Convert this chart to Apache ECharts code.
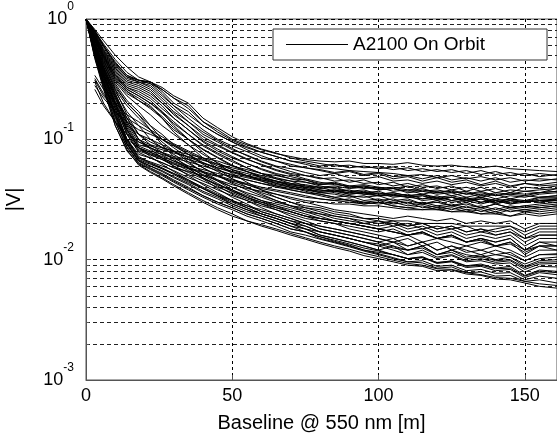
<!DOCTYPE html>
<html>
<head>
<meta charset="utf-8">
<script src="https://cdn.jsdelivr.net/npm/echarts@6/dist/echarts.min.js"></script>
<style>
  html, body { margin: 0; padding: 0; background: #fff; }
  #chart { width: 557px; height: 441px; }
</style>
</head>
<body>
<div id="chart"></div>
<script>
// baseline positions [m] shared by every curve
const baseline = [0, 3, 6, 10, 14, 18, 22, 26, 30, 35, 40, 45, 50, 55, 60, 65, 70, 75, 80, 85,
  90, 95, 100, 105, 110, 115, 120, 125, 130, 135, 140, 145, 150, 155, 161];

const seriesName = "A2100 On Orbit";
const xTicks = [0, 50, 100, 150];

// upper band (ends ~0.023 - 0.055)
const u1 = [1, .82, .66, .5, .4, .33, .3, .26, .22, .19, .14, .12, .1, .09, .082, .076, .072, .068, .066, .065, .066, .063, .063, .062, .064, .061, .06, .061, .059, .058, .06, .057, .056, .055, .054];
const u2 = [1, .8, .62, .46, .36, .31, .3, .25, .2, .17, .13, .11, .095, .085, .078, .072, .066, .064, .06, .062, .058, .06, .057, .059, .055, .057, .054, .056, .052, .055, .051, .053, .05, .052, .05];
const u3 = [1, .78, .6, .44, .34, .31, .29, .24, .19, .15, .12, .1, .088, .079, .07, .066, .062, .058, .056, .053, .055, .051, .053, .049, .05, .047, .05, .046, .048, .045, .048, .044, .046, .045, .047];
const u4 = [1, .76, .56, .4, .32, .3, .27, .22, .18, .14, .11, .095, .082, .074, .066, .06, .057, .053, .05, .052, .048, .047, .049, .045, .046, .043, .045, .042, .044, .041, .043, .04, .043, .042, .044];
const u5 = [1, .74, .54, .38, .3, .28, .25, .2, .16, .13, .1, .088, .077, .068, .062, .056, .052, .05, .048, .045, .046, .043, .044, .041, .043, .04, .041, .038, .04, .037, .039, .036, .04, .039, .041];
const u6 = [1, .62, .4, .24, .14, .1, .09, .085, .08, .075, .07, .066, .06, .056, .052, .05, .047, .046, .043, .044, .041, .042, .04, .039, .041, .037, .038, .036, .037, .034, .036, .035, .037, .036, .039];
const u7 = [1, .72, .52, .36, .28, .26, .23, .19, .15, .12, .095, .08, .07, .063, .057, .052, .049, .046, .042, .043, .04, .041, .038, .039, .036, .037, .035, .036, .033, .035, .032, .034, .033, .035, .036];
const u8 = [1, .6, .38, .22, .13, .09, .085, .078, .072, .068, .063, .058, .054, .05, .047, .045, .042, .041, .039, .04, .037, .038, .035, .036, .034, .035, .032, .033, .031, .033, .03, .032, .03, .033, .034];
const u9 = [1, .7, .5, .34, .26, .23, .2, .17, .14, .11, .088, .075, .065, .058, .052, .048, .045, .041, .04, .037, .038, .035, .036, .033, .034, .031, .032, .03, .031, .029, .031, .029, .031, .03, .032];
const u10 = [1, .58, .36, .2, .12, .085, .078, .072, .066, .06, .056, .052, .049, .046, .043, .04, .038, .036, .035, .033, .034, .031, .032, .03, .031, .029, .03, .028, .029, .027, .029, .027, .028, .029, .03];
const u11 = [1, .68, .48, .32, .25, .21, .18, .15, .12, .1, .082, .07, .06, .054, .049, .045, .041, .039, .036, .035, .033, .034, .031, .032, .029, .03, .028, .029, .027, .028, .026, .028, .027, .028, .029];
const u12 = [1, .56, .34, .19, .11, .08, .074, .068, .062, .057, .053, .049, .045, .042, .039, .037, .035, .033, .032, .031, .03, .029, .03, .028, .027, .028, .026, .027, .025, .026, .024, .026, .025, .026, .027];
const u13 = [1, .66, .46, .3, .23, .19, .16, .13, .11, .09, .075, .064, .056, .05, .045, .041, .038, .036, .034, .032, .031, .029, .03, .028, .027, .026, .027, .025, .026, .024, .025, .023, .025, .024, .025];
const u14 = [1, .55, .33, .18, .1, .075, .07, .064, .058, .054, .05, .046, .042, .039, .037, .035, .033, .031, .03, .029, .029, .028, .028, .027, .026, .026, .026, .025, .025, .024, .024, .023, .024, .023, .024];
const v1 = [1, .8, .6, .42, .33, .31, .3, .27, .23, .2, .15, .125, .105, .092, .083, .077, .07, .066, .063, .06, .061, .058, .059, .056, .058, .054, .056, .053, .055, .051, .054, .05, .052, .049, .051];
const v2 = [1, .77, .58, .41, .33, .3, .28, .23, .19, .16, .13, .11, .095, .082, .073, .066, .06, .058, .055, .052, .054, .05, .052, .047, .049, .045, .048, .044, .046, .042, .045, .041, .043, .041, .042];
const v3 = [1, .75, .55, .39, .31, .29, .26, .21, .17, .14, .115, .098, .084, .073, .065, .059, .054, .05, .047, .048, .044, .046, .042, .044, .04, .042, .039, .041, .037, .04, .036, .038, .037, .038, .039];
const v4 = [1, .73, .53, .37, .29, .27, .24, .2, .165, .13, .105, .09, .078, .069, .061, .055, .051, .047, .044, .042, .041, .039, .04, .037, .038, .035, .037, .034, .036, .033, .035, .032, .034, .033, .034];
const v5 = [1, .71, .51, .35, .27, .25, .22, .18, .15, .12, .097, .083, .072, .063, .056, .051, .047, .044, .041, .039, .037, .036, .037, .034, .035, .032, .034, .031, .033, .03, .032, .03, .031, .03, .031];
const v6 = [1, .69, .49, .33, .26, .23, .2, .165, .135, .11, .09, .077, .067, .058, .052, .047, .043, .04, .038, .036, .034, .033, .034, .031, .032, .029, .031, .028, .03, .027, .029, .027, .028, .027, .028];
const v7 = [1, .67, .47, .31, .24, .21, .185, .155, .125, .1, .083, .071, .061, .054, .048, .043, .04, .037, .035, .033, .031, .03, .031, .029, .03, .027, .028, .026, .028, .025, .027, .025, .026, .025, .026];
const v8 = [1, .79, .6, .43, .34, .31, .29, .26, .22, .18, .14, .115, .098, .087, .078, .072, .066, .062, .058, .057, .055, .054, .053, .052, .05, .051, .048, .05, .047, .049, .046, .048, .045, .047, .046];
const w1 = [1, .6, .39, .23, .135, .095, .088, .082, .077, .072, .067, .062, .058, .054, .05, .047, .045, .044, .042, .043, .04, .041, .039, .04, .038, .039, .036, .038, .035, .037, .034, .036, .035, .036, .037];
const w2 = [1, .59, .37, .21, .125, .088, .08, .075, .07, .065, .06, .055, .051, .048, .045, .042, .04, .038, .037, .038, .035, .036, .034, .035, .033, .034, .031, .033, .03, .032, .029, .031, .03, .031, .032];
const w3 = [1, .57, .35, .2, .115, .082, .076, .07, .064, .058, .054, .05, .046, .043, .04, .038, .036, .034, .032, .031, .032, .03, .029, .03, .028, .029, .027, .028, .026, .027, .025, .027, .026, .027, .028];
const w10 = [1, .62, .42, .26, .16, .11, .095, .086, .079, .071, .064, .058, .053, .049, .046, .044, .042, .04, .038, .037, .036, .035, .034, .034, .033, .032, .033, .031, .032, .03, .031, .029, .03, .031, .031];

// lower band (ends ~0.006 - 0.02)
const l1 = [1, .64, .44, .28, .2, .16, .13, .11, .09, .075, .062, .054, .047, .042, .038, .035, .032, .03, .028, .026, .025, .024, .023, .022, .023, .022, .021, .022, .02, .021, .02, .021, .018, .02, .02];
const l2 = [1, .57, .35, .2, .12, .085, .075, .068, .06, .053, .047, .042, .038, .034, .031, .029, .027, .025, .024, .022, .021, .02, .021, .019, .02, .018, .019, .018, .019, .017, .018, .019, .016, .018, .018];
const l3 = [1, .66, .45, .29, .21, .17, .13, .1, .085, .07, .058, .05, .043, .038, .034, .031, .028, .026, .024, .023, .022, .02, .019, .02, .018, .019, .017, .018, .016, .017, .016, .017, .014, .016, .016];
const l4 = [1, .54, .32, .17, .1, .07, .065, .06, .055, .048, .043, .038, .034, .031, .028, .026, .024, .022, .021, .02, .019, .018, .017, .018, .016, .017, .015, .016, .014, .015, .014, .015, .012, .014, .014];
const l5 = [1, .6, .4, .25, .17, .13, .1, .085, .075, .063, .054, .046, .04, .035, .031, .028, .025, .023, .021, .02, .018, .017, .016, .015, .016, .014, .015, .014, .013, .014, .013, .014, .011, .013, .013];
const l6 = [1, .52, .3, .16, .095, .068, .062, .057, .052, .046, .04, .035, .031, .028, .026, .024, .022, .02, .019, .018, .017, .016, .015, .014, .015, .013, .014, .012, .013, .012, .013, .012, .0105, .012, .012];
const l7 = [1, .62, .42, .26, .19, .15, .12, .095, .08, .065, .053, .045, .038, .033, .029, .026, .023, .021, .019, .018, .017, .016, .015, .014, .013, .014, .012, .013, .012, .011, .012, .011, .0098, .011, .011];
const l8 = [1, .55, .33, .18, .1, .072, .064, .058, .052, .045, .039, .034, .03, .027, .024, .022, .02, .019, .017, .016, .015, .014, .013, .014, .012, .013, .011, .012, .011, .0105, .011, .0105, .0092, .0102, .0105];
const l9 = [1, .59, .38, .23, .15, .11, .09, .078, .068, .057, .048, .041, .035, .031, .027, .024, .022, .02, .018, .017, .016, .015, .014, .013, .012, .013, .011, .012, .0105, .011, .01, .0105, .0088, .0098, .01];
const l10 = [1, .5, .29, .15, .09, .066, .06, .054, .048, .042, .036, .032, .028, .025, .023, .021, .019, .018, .016, .015, .014, .013, .012, .013, .011, .012, .0105, .011, .0098, .0102, .0095, .0098, .0083, .0092, .0093];
const l11 = [1, .63, .43, .27, .2, .16, .12, .09, .072, .058, .047, .039, .033, .029, .025, .023, .021, .019, .017, .016, .015, .014, .013, .012, .011, .0115, .0102, .0108, .0096, .0098, .0092, .0094, .0079, .0088, .0087];
const l12 = [1, .52, .31, .16, .092, .066, .058, .052, .046, .04, .034, .03, .027, .024, .022, .02, .018, .017, .015, .014, .013, .012, .0115, .011, .0102, .0106, .0094, .0098, .0089, .0092, .0085, .0088, .0074, .0082, .008];
const l13 = [1, .58, .37, .22, .14, .1, .083, .07, .06, .05, .042, .036, .031, .027, .024, .022, .02, .018, .016, .015, .014, .013, .012, .011, .0102, .0104, .0093, .0096, .0086, .0088, .0081, .0083, .0071, .0078, .0075];
const l14 = [1, .5, .28, .14, .085, .063, .056, .05, .044, .038, .033, .029, .026, .023, .021, .019, .017, .016, .0148, .0138, .0128, .0118, .011, .0102, .0096, .0098, .0088, .009, .0081, .0083, .0077, .0078, .0068, .0073, .007];
const l15 = [1, .56, .35, .2, .12, .085, .072, .062, .054, .046, .039, .034, .029, .026, .023, .021, .019, .017, .0155, .0142, .0132, .012, .0112, .0104, .0096, .0094, .0085, .0087, .0078, .0079, .0073, .0074, .0066, .0068, .0064];
const l16 = [1, .48, .27, .13, .08, .062, .054, .048, .042, .036, .031, .027, .024, .021, .019, .0175, .016, .0148, .0136, .0126, .0118, .0108, .0102, .0096, .009, .0088, .0081, .0082, .0076, .0074, .0069, .0068, .0064, .006, .0058];
const v9 = [1, .7, .5, .34, .27, .24, .21, .17, .13, .1, .078, .063, .052, .044, .038, .033, .03, .027, .025, .023, .022, .021, .02, .021, .019, .02, .018, .019, .017, .018, .016, .017, .015, .016, .016];
const v10 = [1, .68, .48, .32, .25, .22, .19, .15, .115, .09, .07, .057, .047, .04, .035, .031, .028, .025, .023, .021, .02, .019, .018, .017, .016, .017, .015, .016, .014, .015, .013, .014, .012, .013, .013];
const w4 = [1, .56, .34, .19, .11, .078, .07, .064, .058, .051, .045, .04, .036, .032, .029, .027, .025, .023, .022, .021, .02, .019, .018, .019, .017, .018, .016, .017, .015, .016, .015, .016, .013, .015, .015];
const w5 = [1, .53, .31, .165, .097, .07, .063, .057, .051, .044, .039, .034, .031, .028, .025, .023, .021, .02, .018, .017, .016, .015, .014, .015, .013, .014, .012, .013, .0115, .012, .011, .0115, .0098, .011, .0112];
const w6 = [1, .51, .3, .155, .092, .067, .06, .055, .049, .043, .037, .033, .029, .026, .024, .022, .02, .018, .017, .016, .015, .014, .0135, .0125, .012, .0125, .011, .0115, .0102, .0106, .0098, .01, .0086, .0095, .0096];
const w7 = [1, .49, .28, .14, .087, .064, .057, .051, .045, .039, .034, .03, .027, .024, .022, .02, .018, .017, .0155, .0145, .0135, .0125, .0118, .011, .0102, .0104, .0095, .0097, .0088, .009, .0084, .0085, .0073, .008, .0078];
const w8 = [1, .47, .26, .13, .082, .061, .053, .047, .041, .035, .03, .026, .023, .021, .0195, .018, .0165, .0152, .014, .013, .0122, .0113, .0106, .0099, .0093, .009, .0084, .0083, .0078, .0075, .0071, .007, .0066, .0063, .0061];
const w9 = [1, .6, .4, .24, .15, .1, .085, .074, .066, .058, .051, .045, .04, .036, .033, .03, .028, .027, .026, .024, .023, .022, .022, .021, .021, .02, .02, .02, .019, .019, .019, .019, .017, .019, .019];

// curves that only start at ~3 m
const p1 = [null, .32, .24, .17, .13, .11, .1, .09, .08, .068, .058, .05, .044, .04, .036, .033, .03, .028, .027, .025, .024, .022, .021, .02, .019, .02, .018, .019, .017, .018, .017, .018, .015, .017, .017];
const p2 = [null, .28, .22, .17, .14, .12, .11, .1, .09, .078, .068, .06, .054, .05, .046, .043, .041, .039, .037, .038, .036, .037, .035, .036, .034, .035, .033, .034, .032, .033, .031, .032, .031, .033, .033];
const p3 = [null, .3, .2, .14, .1, .085, .078, .07, .063, .055, .048, .042, .037, .033, .03, .028, .026, .024, .022, .021, .02, .019, .018, .017, .016, .017, .015, .016, .014, .015, .014, .015, .012, .014, .013];
const p4 = [null, .34, .26, .2, .16, .14, .12, .105, .092, .08, .07, .062, .056, .052, .048, .045, .043, .042, .04, .041, .039, .04, .038, .039, .037, .038, .036, .037, .035, .036, .034, .035, .034, .036, .037];
const p5 = [null, .26, .19, .14, .11, .095, .085, .077, .07, .06, .05, .043, .037, .033, .03, .027, .025, .023, .022, .021, .02, .019, .018, .017, .016, .0165, .015, .0155, .014, .0145, .013, .0135, .0115, .013, .012];
const p6 = [null, .31, .23, .18, .15, .13, .115, .1, .088, .075, .064, .056, .05, .046, .043, .041, .039, .038, .036, .037, .035, .036, .034, .035, .033, .034, .032, .033, .031, .032, .03, .031, .03, .032, .032];

const curves = [u1, u2, u3, u4, u5, u6, u7, u8, u9, u10, u11, u12, u13, u14,
  v1, v2, v3, v4, v5, v6, v7, v8, w1, w2, w3, w10,
  l1, l2, l3, l4, l5, l6, l7, l8, l9, l10, l11, l12, l13, l14, l15, l16,
  v9, v10, w4, w5, w6, w7, w8, w9,
  p1, p2, p3, p4, p5, p6];

const chart = echarts.init(document.getElementById("chart"));

const font = "Liberation Sans, Arial, sans-serif";

const series = curves.map(function (c) {
  const data = [];
  c.forEach(function (v, i) {
    if (v != null) data.push([baseline[i], v]);
  });
  return {
    name: seriesName,
    type: "line",
    data: data,
    symbol: "none",
    silent: true,
    lineStyle: { color: "#000", width: 1 },
    itemStyle: { color: "#000" },
  };
});

const option = {
  animation: false,
  backgroundColor: "#fff",
  grid: {
    left: 86,
    right: 0,
    top: 19,
    bottom: 61,
    outerBoundsMode: "none",
    containLabel: false,
    show: true,
    borderColor: "#555",
    borderWidth: 1,
  },
  legend: {
    data: [{ name: seriesName, icon: "rect" }],
    left: 273,
    top: 29,
    itemWidth: 62,
    itemHeight: 1,
    padding: [6, 62, 6, 13],
    backgroundColor: "#fff",
    borderColor: "#333",
    borderWidth: 1,
    borderRadius: 0,
    textStyle: { fontFamily: font, fontSize: 19, color: "#000" },
  },
  xAxis: {
    type: "value",
    min: 0,
    max: 161,
    interval: 50,
    name: "Baseline @ 550 nm [m]",
    nameLocation: "middle",
    nameGap: 33,
    nameTextStyle: { fontFamily: font, fontSize: 20, color: "#000" },
    axisLine: { lineStyle: { color: "#555" } },
    axisTick: { inside: true, length: 5, lineStyle: { color: "#555" } },
    axisLabel: {
      fontFamily: font,
      fontSize: 18,
      color: "#000",
      margin: 7,
      showMaxLabel: false,
      formatter: function (v) { return xTicks.indexOf(v) >= 0 ? String(v) : ""; },
    },
    splitLine: { show: true, lineStyle: { color: "#000", type: [3, 3], width: 1 } },
  },
  yAxis: {
    type: "log",
    logBase: 10,
    min: 0.001,
    max: 1,
    name: "|V|",
    nameLocation: "middle",
    nameRotate: 90,
    nameGap: 62,
    nameTextStyle: { fontFamily: font, fontSize: 20, color: "#000" },
    axisLine: { show: true, lineStyle: { color: "#555" } },
    axisTick: { inside: true, length: 5, lineStyle: { color: "#555" } },
    minorTick: { show: true, splitNumber: 9, length: 3, lineStyle: { color: "#555" } },
    axisLabel: {
      fontFamily: font,
      margin: 12,
      formatter: function (v) {
        const e = Math.round(Math.log10(v));
        return "{b|10}{s|" + e + "}";
      },
      rich: {
        b: { fontFamily: font, fontSize: 18, color: "#000", lineHeight: 36 },
        s: { fontFamily: font, fontSize: 12, color: "#000", lineHeight: 12, verticalAlign: "top" },
      },
    },
    splitLine: { show: true, lineStyle: { color: "#000", type: [4, 3], width: 1 } },
    minorSplitLine: { show: true, lineStyle: { color: "#222", type: [4, 3], width: 1 } },
  },
  series: series,
};

chart.setOption(option);
</script>
</body>
</html>
